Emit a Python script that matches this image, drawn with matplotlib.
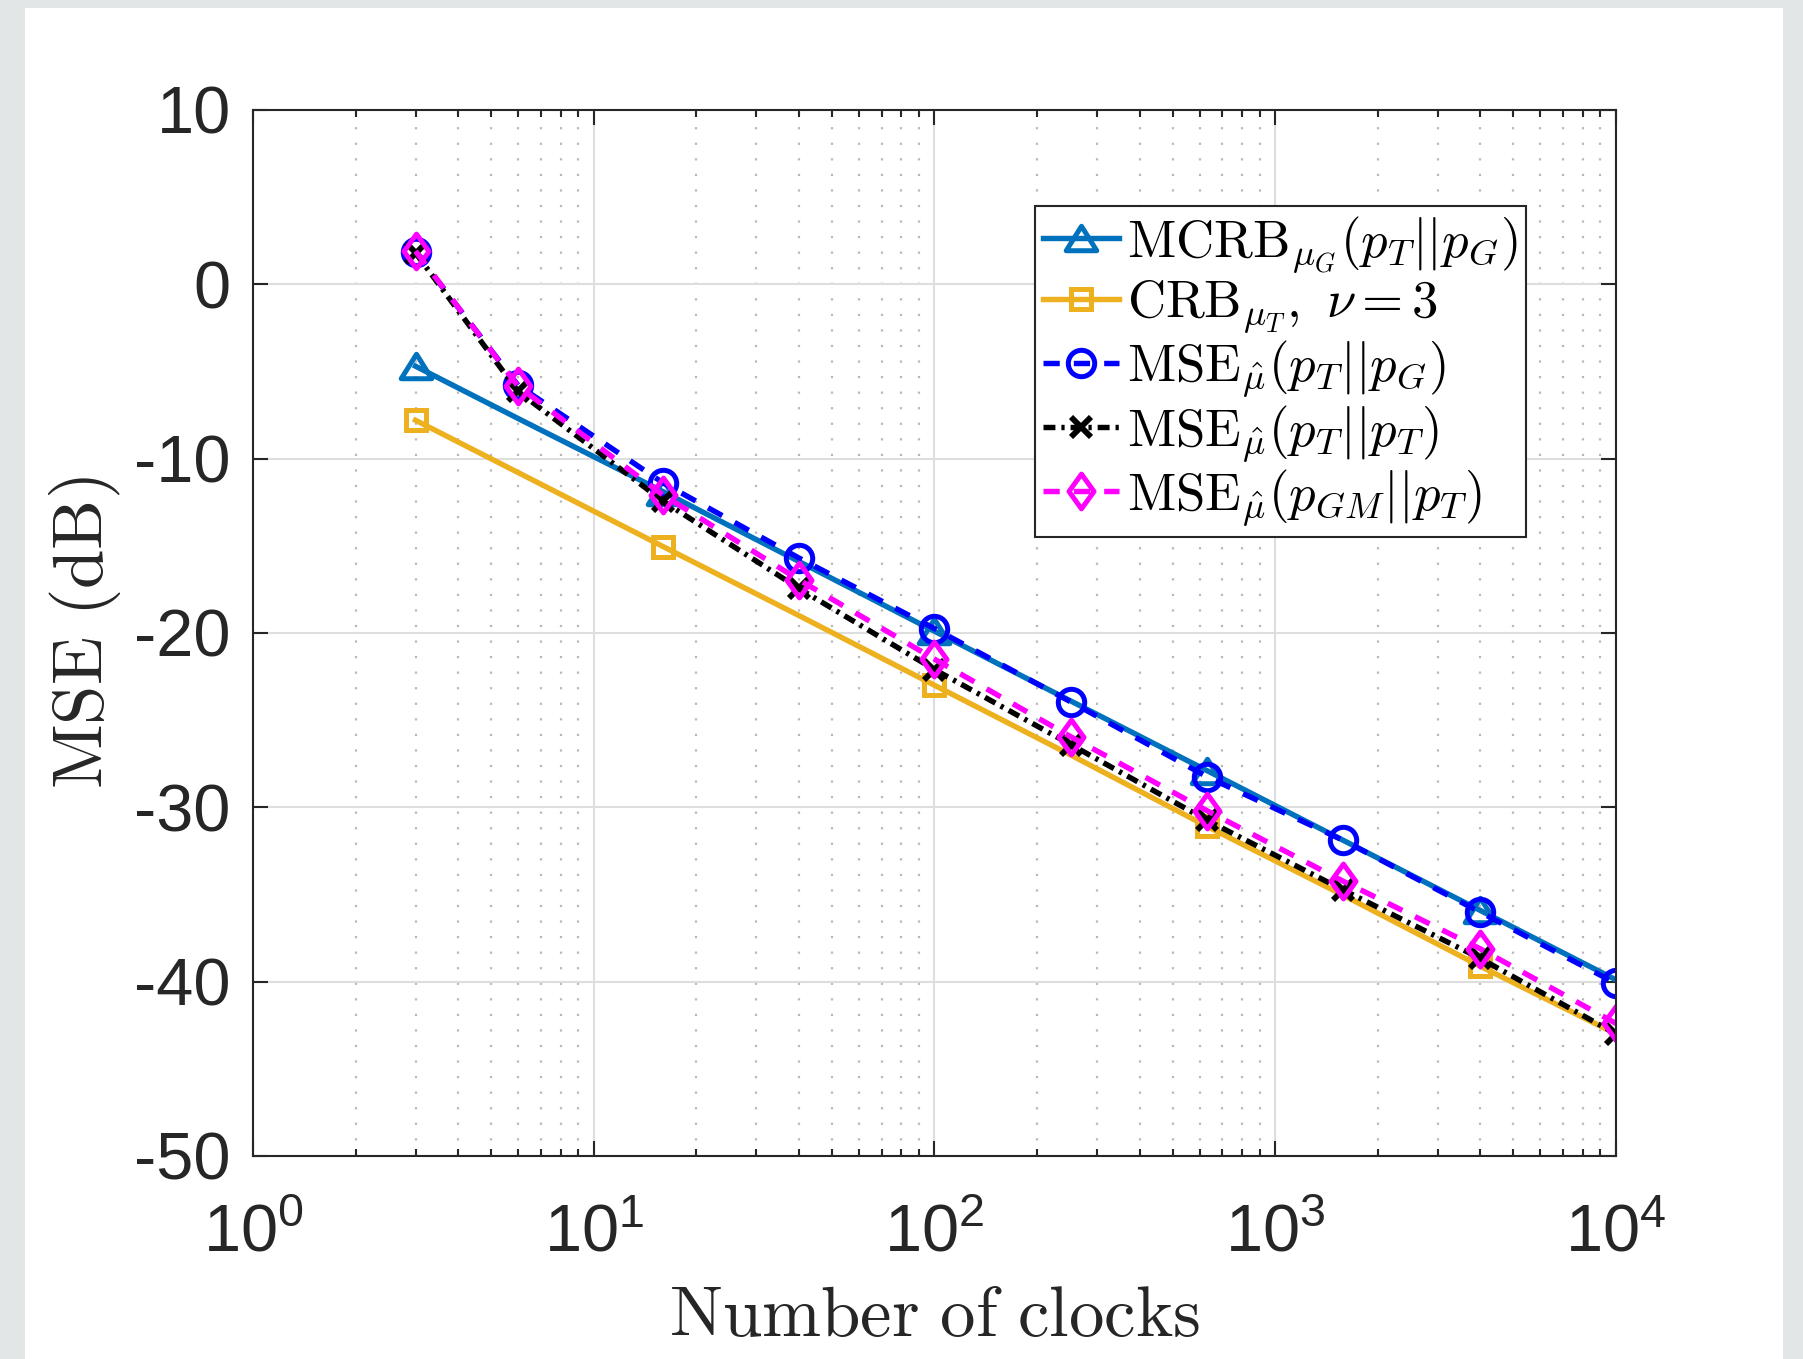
import numpy as np
import matplotlib
matplotlib.use("Agg")
import matplotlib.pyplot as plt
from matplotlib.patches import Rectangle
from matplotlib.path import Path
from matplotlib.font_manager import FontProperties
from matplotlib.ticker import FuncFormatter, LogLocator, NullLocator, FixedLocator

# -----------------------------
# Data
# -----------------------------
n_clocks = [3, 6, 16, 40, 100, 251, 631, 1585, 3981, 10000]
mcrb_g = [-4.7, -7.7, -11.9, -15.9, -19.9, -23.9, -27.9, -31.9, -35.9, -39.9]
crb_t = [-7.8, -10.8, -15.05, -19.0, -23.0, -27.0, -31.1, -35.05, -39.1, -43.0]
mse_tg = [1.85, -5.8, -11.4, -15.7, -19.75, -23.95, -28.25, -31.9, -36.0, -40.1]
mse_tt = [1.8, -6.15, -12.45, -17.45, -22.1, -26.4, -30.75, -34.75, -38.65, -43.0]
mse_gmt = [1.9, -5.85, -12.1, -16.95, -21.5, -25.95, -30.2, -34.25, -38.1, -42.4]

labels = [
    r'$\mathrm{MCRB}_{\mu_G}(p_T||p_G)$',
    r'$\mathrm{CRB}_{\mu_T},\ \nu=3$',
    r'$\mathrm{MSE}_{\hat{\mu}}(p_T||p_G)$',
    r'$\mathrm{MSE}_{\hat{\mu}}(p_T||p_T)$',
    r'$\mathrm{MSE}_{\hat{\mu}}(p_{GM}||p_T)$',
]
y_ticks = [10, 0, -10, -20, -30, -40, -50]

# -----------------------------
# Style
# -----------------------------
plt.rcParams['font.family'] = ['Liberation Sans', 'DejaVu Sans']
plt.rcParams['mathtext.fontset'] = 'custom'
plt.rcParams['mathtext.rm'] = 'Liberation Sans'
plt.rcParams['mathtext.it'] = 'Liberation Sans:italic'
plt.rcParams['mathtext.bf'] = 'Liberation Sans:bold'
plt.rcParams['axes.unicode_minus'] = False

txt = '#262626'

# MATLAB-like markers
tri = Path([(0, 0.8), (-1, -0.8), (1, -0.8), (0, 0.8)],
           [Path.MOVETO, Path.LINETO, Path.LINETO, Path.CLOSEPOLY])
dia = Path([(0, 1), (0.72, 0), (0, -1), (-0.72, 0), (0, 1)],
           [Path.MOVETO, Path.LINETO, Path.LINETO, Path.LINETO, Path.CLOSEPOLY])

fig = plt.figure(figsize=(18.03, 13.59), dpi=100)
fig.patch.set_facecolor('#e2e6e7')
fig.add_artist(Rectangle((25 / 1803, 0), (1783 - 25) / 1803, 1 - 8 / 1359,
                         transform=fig.transFigure, facecolor='white',
                         edgecolor='none', zorder=0))

ax = fig.add_axes([0.1403, 0.1494, 0.756, 0.7697])

lw = 3.9
mew = 3.6
ax.plot(n_clocks, mcrb_g, '-', color='#0072BD', lw=lw, marker=tri, ms=22,
        mfc='none', mew=mew, markevery=2, label=labels[0])
ax.plot(n_clocks, crb_t, '-', color='#EDB120', lw=lw, marker='s', ms=15,
        mfc='none', mew=mew, markevery=2, label=labels[1])
ax.plot(n_clocks, mse_tg, color='#0000FF', lw=lw, dashes=(3.0, 2.6), marker='o',
        ms=19, mfc='none', mew=mew, label=labels[2])
ax.plot(n_clocks, mse_tt, color='black', lw=lw, dashes=(2.2, 1.1, 0.6, 1.1),
        marker='x', ms=15, mew=4.2, label=labels[3])
ax.plot(n_clocks, mse_gmt, color='#FF00FF', lw=lw, dashes=(3.0, 2.6), marker=dia,
        ms=25, mfc='none', mew=mew, label=labels[4])

# -----------------------------
# Axes
# -----------------------------
ax.set_xscale('log')
ax.set_xlim(1, 1e4)
ax.set_ylim(-50, 10)
ax.xaxis.set_major_locator(FixedLocator([1, 10, 100, 1000, 10000]))
ax.xaxis.set_minor_locator(LogLocator(base=10, subs=np.arange(2, 10), numticks=20))
ax.xaxis.set_major_formatter(
    FuncFormatter(lambda v, p: r'$\mathregular{10^{%d}}$' % round(np.log10(v))))
ax.set_yticks(y_ticks)
ax.yaxis.set_minor_locator(NullLocator())
ax.yaxis.set_major_formatter(FuncFormatter(lambda v, p: '%d' % v))

ax.tick_params(which='both', direction='in', top=True, right=True,
               width=1.5, color=txt, labelcolor=txt, labelsize=48)
ax.tick_params(which='major', length=11)
ax.tick_params(which='minor', length=5)
ax.tick_params(axis='x', pad=34)
ax.tick_params(axis='y', pad=16)

for s in ax.spines.values():
    s.set_color(txt)
    s.set_linewidth(1.5)

ax.grid(True, which='major', color='#dedede', lw=1.5)
ax.grid(True, which='minor', axis='x', color='#b8b8b8', lw=1.6,
        linestyle=(0, (1, 6)))
ax.set_axisbelow(True)

ax.set_xlabel(r'$\mathrm{Number\ of\ clocks}$', fontsize=51,
              math_fontfamily='cm', color=txt, labelpad=14)
ax.set_ylabel(r'$\mathrm{MSE\ (dB)}$', fontsize=51,
              math_fontfamily='cm', color=txt, labelpad=8)

leg = ax.legend(loc='upper right', bbox_to_anchor=(0.934, 0.908),
                prop=FontProperties(size=38, math_fontfamily='cm'),
                frameon=True, fancybox=False, edgecolor='#262626',
                framealpha=1, handlelength=1.45, handletextpad=0.15,
                labelspacing=0.05, borderpad=0.15, borderaxespad=0)
leg.get_frame().set_linewidth(1.5)

fig.savefig('out.png', dpi=100)
